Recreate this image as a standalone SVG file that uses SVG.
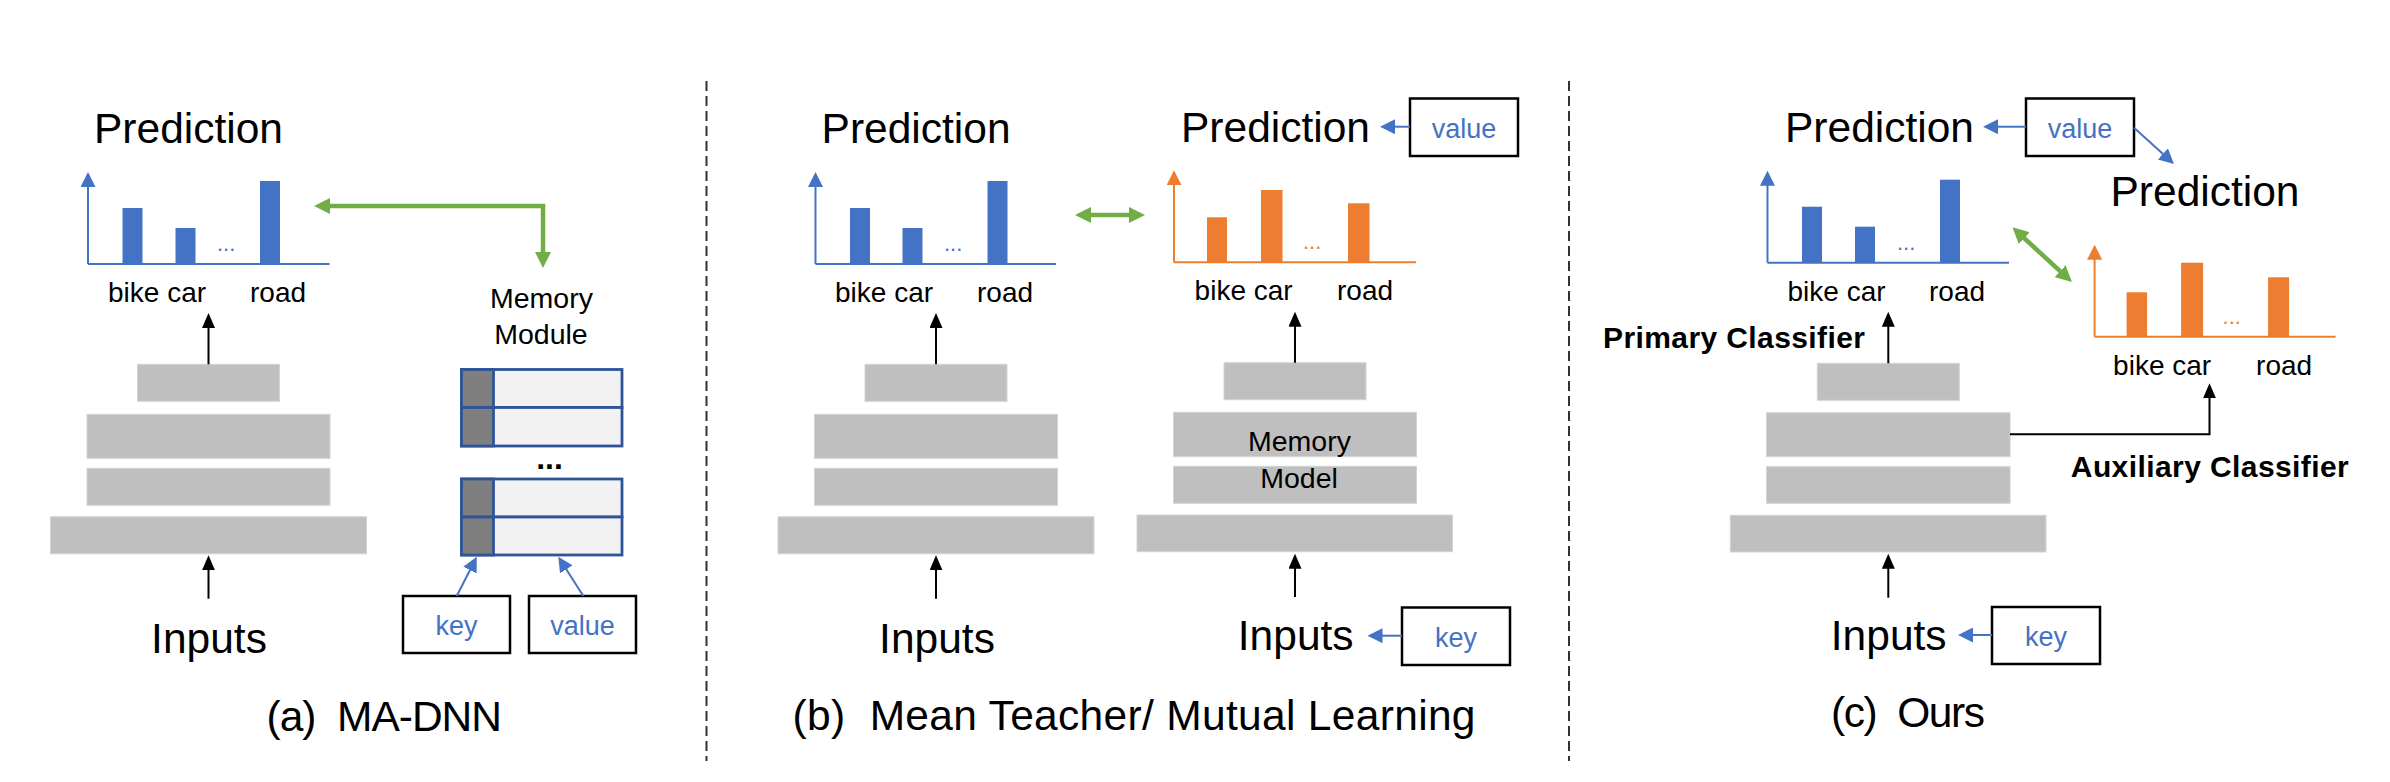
<svg xmlns="http://www.w3.org/2000/svg" width="2390" height="782" viewBox="0 0 2390 782">
<style>
  text { font-family: "Liberation Sans", Arial, sans-serif; fill: #000; }
  .big { font-size: 42.5px; }
  .lbl { font-size: 28px; }
  .mem { font-size: 28.5px; text-anchor: middle; }
  .kv { font-size: 27px; fill: #4472C4; text-anchor: middle; }
  .bold { font-size: 30px; font-weight: bold; }
  .mid { text-anchor: middle; }
  .dotsB { font-size: 22px; fill: #4472C4; }
  .dotsO { font-size: 22px; fill: #ED7D31; }
  .axisB { stroke: #4472C4; stroke-width: 2; fill: none; }
  .axisO { stroke: #ED7D31; stroke-width: 2; fill: none; }
  .barB { fill: #4472C4; }
  .barO { fill: #ED7D31; }
  .layer { fill: #BFBFBF; stroke: #D4D4D4; stroke-width: 1; }
  .blk { stroke: #000; stroke-width: 2; fill: none; }
  .blu { stroke: #4472C4; stroke-width: 2; fill: none; }
  .grn { stroke: #70AD47; stroke-width: 4.5; fill: none; }
  .box { fill: #fff; stroke: #000; stroke-width: 2.5; }
  .cellL { fill: #F2F2F2; stroke: #2F5597; stroke-width: 2.8; }
  .cellD { fill: #7F7F7F; stroke: #2F5597; stroke-width: 2.8; }
  .sep { stroke: #333333; stroke-width: 2; stroke-dasharray: 10 5; fill: none; }
</style>
<defs>
  <marker id="hK" markerUnits="userSpaceOnUse" markerWidth="16" markerHeight="13" viewBox="0 0 16 13" refX="1" refY="6.5" orient="auto">
    <path d="M0,0 L15,6.5 L0,13 z" fill="#000"/>
  </marker>
  <marker id="hB" markerUnits="userSpaceOnUse" markerWidth="16" markerHeight="15" viewBox="0 0 16 15" refX="1" refY="7.5" orient="auto">
    <path d="M0,0 L15,7.5 L0,15 z" fill="#4472C4"/>
  </marker>
  <marker id="hO" markerUnits="userSpaceOnUse" markerWidth="16" markerHeight="15" viewBox="0 0 16 15" refX="1" refY="7.5" orient="auto">
    <path d="M0,0 L15,7.5 L0,15 z" fill="#ED7D31"/>
  </marker>
  <marker id="hG" markerUnits="userSpaceOnUse" markerWidth="17" markerHeight="16" viewBox="0 0 17 16" refX="1" refY="8" orient="auto-start-reverse">
    <path d="M0,0 L16,8 L0,16 z" fill="#70AD47"/>
  </marker>
</defs>

<!-- separators -->
<g id="separators">
  <line class="sep" x1="706.5" y1="81" x2="706.5" y2="761"/>
  <line class="sep" x1="1569" y1="81" x2="1569" y2="761"/>
</g>

<!-- ===== Panel (a) ===== -->
<g id="a-prediction"><text class="big" x="94" y="143">Prediction</text></g>
<g id="a-chart" transform="translate(88,264)">
  <line class="axisB" x1="0" y1="0" x2="0" y2="-78" marker-end="url(#hB)"/>
  <line class="axisB" x1="0" y1="0" x2="241.5" y2="0"/>
  <rect class="barB" x="34.5" y="-56" width="20" height="56"/>
  <rect class="barB" x="87.5" y="-36" width="20" height="36"/>
  <text class="dotsB" x="129" y="-13">...</text>
  <rect class="barB" x="172" y="-83" width="20" height="83"/>
  <text class="lbl" x="20" y="37.7">bike car</text>
  <text class="lbl" x="162" y="37.7">road</text>
</g>
<g id="a-stack" transform="translate(208.5,364.3)">
  <rect class="layer" x="-71" y="0" width="142" height="37"/>
  <rect class="layer" x="-121.5" y="50" width="243" height="44"/>
  <rect class="layer" x="-121.5" y="104" width="243" height="37"/>
  <rect class="layer" x="-158" y="152.5" width="316" height="37"/>
</g>
<g id="a-inputs"><text class="big mid" x="209" y="653">Inputs</text></g>
<g id="a-memory-label">
  <text class="mem" x="541.5" y="307.7">Memory</text>
  <text class="mem" x="541" y="344">Module</text>
</g>
<g id="a-memory">
  <rect class="cellL" x="461.5" y="369.5" width="160.5" height="38"/>
  <rect class="cellL" x="461.5" y="407.5" width="160.5" height="38.5"/>
  <rect class="cellD" x="461.5" y="369.5" width="32" height="38"/>
  <rect class="cellD" x="461.5" y="407.5" width="32" height="38.5"/>
  <text x="549.5" y="469" font-size="32" font-weight="bold" text-anchor="middle">...</text>
  <rect class="cellL" x="461.5" y="479" width="160.5" height="38"/>
  <rect class="cellL" x="461.5" y="517" width="160.5" height="38"/>
  <rect class="cellD" x="461.5" y="479" width="32" height="38"/>
  <rect class="cellD" x="461.5" y="517" width="32" height="38"/>
</g>
<g id="a-key"><rect class="box" x="403" y="596" width="107" height="57"/><text class="kv" x="456.5" y="635">key</text></g>
<g id="a-value"><rect class="box" x="529" y="596" width="107" height="57"/><text class="kv" x="582.5" y="635">value</text></g>
<g id="a-caption"><text class="big" x="266.5" y="731" textLength="235.5" xml:space="preserve">(a)  MA-DNN</text></g>

<!-- ===== Panel (b) ===== -->
<g id="b-prediction1"><text class="big" x="821.6" y="143">Prediction</text></g>
<g id="b-chart1" transform="translate(815.5,264)">
  <line class="axisB" x1="0" y1="0" x2="0" y2="-78" marker-end="url(#hB)"/>
  <line class="axisB" x1="0" y1="0" x2="240.5" y2="0"/>
  <rect class="barB" x="34.5" y="-56" width="20" height="56"/>
  <rect class="barB" x="87" y="-36" width="20" height="36"/>
  <text class="dotsB" x="128.5" y="-13">...</text>
  <rect class="barB" x="172" y="-83" width="20" height="83"/>
  <text class="lbl" x="19.5" y="37.7">bike car</text>
  <text class="lbl" x="161.5" y="37.7">road</text>
</g>
<g id="b-stack1" transform="translate(936,364.3)">
  <rect class="layer" x="-71" y="0" width="142" height="37"/>
  <rect class="layer" x="-121.5" y="50" width="243" height="44"/>
  <rect class="layer" x="-121.5" y="104" width="243" height="37"/>
  <rect class="layer" x="-158" y="152.5" width="316" height="37"/>
</g>
<g id="b-inputs1"><text class="big mid" x="937" y="653">Inputs</text></g>

<g id="b-prediction2"><text class="big" x="1181" y="142">Prediction</text></g>
<g id="b-value"><rect class="box" x="1410" y="98.5" width="108" height="57.5"/><text class="kv" x="1464" y="138.3">value</text></g>
<g id="b-chart2" transform="translate(1174,262.3)">
  <line class="axisO" x1="0" y1="0" x2="0" y2="-78" marker-end="url(#hO)"/>
  <line class="axisO" x1="0" y1="0" x2="242" y2="0"/>
  <rect class="barO" x="33" y="-45" width="20" height="45"/>
  <rect class="barO" x="87" y="-72.3" width="21.5" height="72.3"/>
  <text class="dotsO" x="129" y="-13">...</text>
  <rect class="barO" x="174" y="-59" width="21.5" height="59"/>
  <text class="lbl" x="20.6" y="37.7">bike car</text>
  <text class="lbl" x="163" y="37.7">road</text>
</g>
<g id="b-stack2" transform="translate(1295,362.7)">
  <rect class="layer" x="-71" y="0" width="142" height="37"/>
  <rect class="layer" x="-121.5" y="49.6" width="243" height="44.4"/>
  <rect class="layer" x="-121.5" y="103.6" width="243" height="37"/>
  <rect class="layer" x="-158" y="152.3" width="315.5" height="36.7"/>
  <text class="mem" x="4.5" y="88.3">Memory</text>
  <text class="mem" x="4" y="125">Model</text>
</g>
<g id="b-inputs2"><text class="big mid" x="1295.7" y="650">Inputs</text></g>
<g id="b-key"><rect class="box" x="1402" y="607.5" width="108" height="57.5"/><text class="kv" x="1456" y="646.7">key</text></g>
<g id="b-caption"><text class="big" x="792.5" y="730" textLength="683" xml:space="preserve">(b)  Mean Teacher/ Mutual Learning</text></g>

<!-- ===== Panel (c) ===== -->
<g id="c-prediction1"><text class="big" x="1785" y="142">Prediction</text></g>
<g id="c-value"><rect class="box" x="2026" y="98.5" width="108" height="57.5"/><text class="kv" x="2080" y="138.3">value</text></g>
<g id="c-prediction2"><text class="big" x="2110.5" y="205.5">Prediction</text></g>
<g id="c-chart1" transform="translate(1767.5,262.7)">
  <line class="axisB" x1="0" y1="0" x2="0" y2="-78" marker-end="url(#hB)"/>
  <line class="axisB" x1="0" y1="0" x2="241.5" y2="0"/>
  <rect class="barB" x="34.5" y="-56" width="20" height="56"/>
  <rect class="barB" x="87.5" y="-36" width="20" height="36"/>
  <text class="dotsB" x="129.5" y="-13">...</text>
  <rect class="barB" x="172.5" y="-83" width="20" height="83"/>
  <text class="lbl" x="20" y="38.3">bike car</text>
  <text class="lbl" x="161.5" y="38.3">road</text>
</g>
<g id="c-chart2" transform="translate(2094.6,336.7)">
  <line class="axisO" x1="0" y1="0" x2="0" y2="-78" marker-end="url(#hO)"/>
  <line class="axisO" x1="0" y1="0" x2="241" y2="0"/>
  <rect class="barO" x="32" y="-44.4" width="20.5" height="44.4"/>
  <rect class="barO" x="86.5" y="-74" width="22" height="74"/>
  <text class="dotsO" x="128" y="-13">...</text>
  <rect class="barO" x="173.5" y="-59.4" width="21" height="59.4"/>
  <text class="lbl" x="18.5" y="38.3">bike car</text>
  <text class="lbl" x="161.5" y="38.3">road</text>
</g>
<g id="c-primary"><text class="bold" x="1603" y="347.7" textLength="262">Primary Classifier</text></g>
<g id="c-stack" transform="translate(1888.3,363.3)">
  <rect class="layer" x="-71" y="0" width="142" height="37"/>
  <rect class="layer" x="-121.8" y="49.4" width="243.6" height="44"/>
  <rect class="layer" x="-121.8" y="103.4" width="243.6" height="36.6"/>
  <rect class="layer" x="-158" y="152" width="315.7" height="36.7"/>
</g>
<g id="c-auxiliary"><text class="bold" x="2070.8" y="476.7" textLength="278">Auxiliary Classifier</text></g>
<g id="c-inputs"><text class="big mid" x="1888.7" y="650">Inputs</text></g>
<g id="c-key"><rect class="box" x="1992" y="607" width="108" height="57"/><text class="kv" x="2046" y="646">key</text></g>
<g id="c-caption"><text class="big" x="1831" y="727" textLength="154" xml:space="preserve">(c)  Ours</text></g>

<!-- ===== Connectors ===== -->
<g id="connectors">
  <!-- (a) -->
  <path class="blk" d="M208.5,364.3 V327" marker-end="url(#hK)"/>
  <path class="blk" d="M208.5,598.7 V569.3" marker-end="url(#hK)"/>
  <path class="grn" d="M329,206 H543 V253" marker-start="url(#hG)" marker-end="url(#hG)"/>
  <path class="blu" d="M456.7,596 L470.4,569.2" marker-end="url(#hB)"/>
  <path class="blu" d="M583.3,596 L565.8,568.5" marker-end="url(#hB)"/>
  <!-- (b) -->
  <path class="blk" d="M936,364.3 V327" marker-end="url(#hK)"/>
  <path class="blk" d="M936,598.7 V569.3" marker-end="url(#hK)"/>
  <path class="blk" d="M1295,362.7 V325.7" marker-end="url(#hK)"/>
  <path class="blk" d="M1295,597 V567.7" marker-end="url(#hK)"/>
  <path class="grn" d="M1090,215 H1130" marker-start="url(#hG)" marker-end="url(#hG)"/>
  <path class="blu" d="M1410,126.7 H1394" marker-end="url(#hB)"/>
  <path class="blu" d="M1402,635.7 H1381.5" marker-end="url(#hB)"/>
  <!-- (c) -->
  <path class="blk" d="M1888.3,363.3 V325.7" marker-end="url(#hK)"/>
  <path class="blk" d="M1888.3,597.7 V567.7" marker-end="url(#hK)"/>
  <path class="blk" d="M2010,434.3 H2209.5 V397.3" marker-end="url(#hK)"/>
  <path class="grn" d="M2023.5,237.5 L2060.9,271.9" marker-start="url(#hG)" marker-end="url(#hG)"/>
  <path class="blu" d="M2026,126.7 H1997" marker-end="url(#hB)"/>
  <path class="blu" d="M2134,127.7 L2163.6,154.6" marker-end="url(#hB)"/>
  <path class="blu" d="M1992,635 H1972" marker-end="url(#hB)"/>
</g>
</svg>
